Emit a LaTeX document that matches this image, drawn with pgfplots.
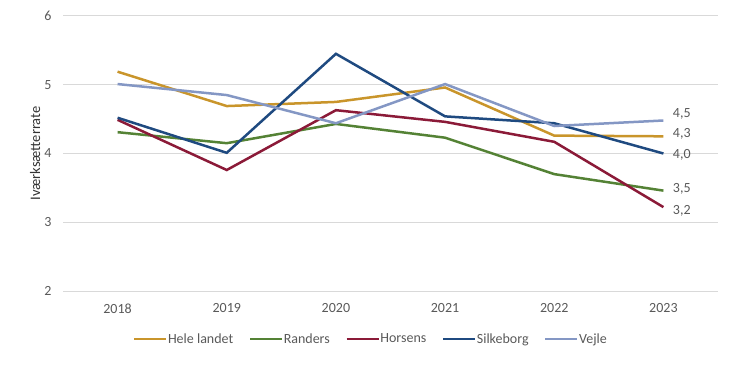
\documentclass[border=0pt]{standalone}
\usepackage{pgfplots}
\pgfplotsset{compat=1.18}
\usepackage{fontspec}
\setmainfont{Carlito}
\definecolor{cgold}{HTML}{C9952B}
\definecolor{cgreen}{HTML}{548235}
\definecolor{cred}{HTML}{8B1A38}
\definecolor{cblue}{HTML}{1F4A80}
\definecolor{clight}{HTML}{8497C4}
\definecolor{tgray}{HTML}{595959}
\definecolor{ggray}{HTML}{D9D9D9}
\begin{document}
\begin{tikzpicture}
\path[use as bounding box] (0,0) rectangle (738pt,364pt);
\begin{axis}[
  at={(63pt,73pt)}, anchor=south west,
  scale only axis, width=655pt, height=275pt,
  xmin=-0.5, xmax=5.5, ymin=2, ymax=6,
  xtick={0,1,2,3,4,5},
  xticklabels={2018,2019,2020,2021,2022,2023},
  ytick={2,3,4,5,6},
  axis line style={draw=none},
  major tick length=0pt,
  ymajorgrids, grid style={ggray, line width=1pt},
  font=\fontsize{14}{16}\selectfont,
  tick label style={tgray, font=\fontsize{14}{16}\selectfont},
  yticklabel style={xshift=-8pt},
  xticklabel style={yshift=-9pt},
  /pgf/number format/assume math mode=true,
  ylabel={Iværksætterrate},
  ylabel style={at={(axis description cs:-0.0427,0.5)}, anchor=center, text=black!80, font=\fontsize{14.5}{16}\selectfont},
  clip=false,
  legend columns=5,
  legend style={at={(axis description cs:0.469,-0.1745)}, anchor=center, draw=none, fill=none,
    font=\fontsize{14}{16}\selectfont, text=tgray,
    nodes={inner xsep=0.5pt, inner ysep=1pt},
    /tikz/every even column/.append style={column sep=15pt}},
  legend image code/.code={\draw[#1, line width=2.5pt] (0pt,0pt) -- (32pt,0pt);},
  every axis plot/.append style={line width=2.5pt, no markers},
]
\addplot[cgold] coordinates {(0,5.19) (1,4.69) (2,4.75) (3,4.96) (4,4.26) (5,4.25)};
\addlegendentry{Hele landet}
\addplot[cgreen] coordinates {(0,4.31) (1,4.15) (2,4.43) (3,4.23) (4,3.70) (5,3.46)};
\addlegendentry{Randers}
\addplot[cred] coordinates {(0,4.49) (1,3.76) (2,4.63) (3,4.46) (4,4.17) (5,3.22)};
\addlegendentry{Horsens}
\addplot[cblue] coordinates {(0,4.52) (1,4.01) (2,5.45) (3,4.54) (4,4.44) (5,4.00)};
\addlegendentry{Silkeborg}
\addplot[clight] coordinates {(0,5.01) (1,4.85) (2,4.44) (3,5.01) (4,4.40) (5,4.48)};
\addlegendentry{Vejle}
\node[anchor=west, text=tgray, xshift=6pt] at (axis cs:5,4.58) {4,5};
\node[anchor=west, text=tgray, xshift=6pt] at (axis cs:5,4.28) {4,3};
\node[anchor=west, text=tgray, xshift=6pt] at (axis cs:5,3.98) {4,0};
\node[anchor=west, text=tgray, xshift=6pt] at (axis cs:5,3.48) {3,5};
\node[anchor=west, text=tgray, xshift=6pt] at (axis cs:5,3.17) {3,2};
\end{axis}
\end{tikzpicture}
\end{document}
